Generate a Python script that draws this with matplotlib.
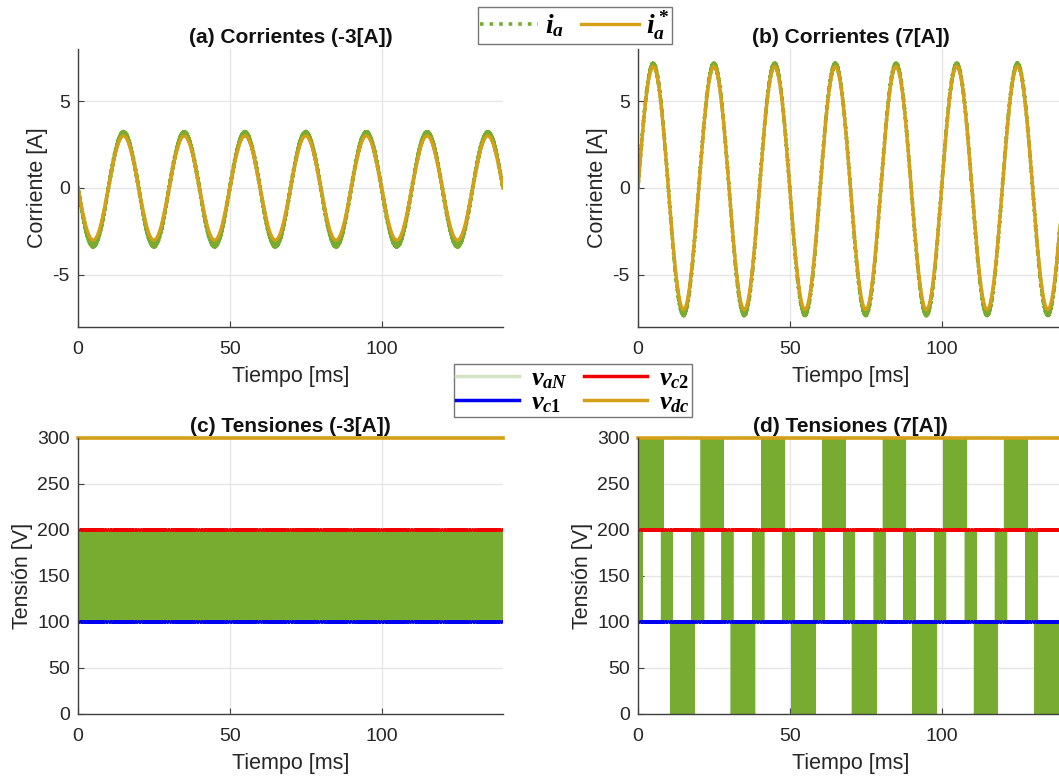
import numpy as np
import matplotlib
matplotlib.use("Agg")
import matplotlib.pyplot as plt

plt.rcParams["font.family"] = ["Liberation Sans", "DejaVu Sans"]
plt.rcParams["mathtext.fontset"] = "custom"
plt.rcParams["mathtext.it"] = "Liberation Serif:italic:bold"
plt.rcParams["mathtext.rm"] = "Liberation Serif:bold"
plt.rcParams["mathtext.bf"] = "Liberation Serif:bold"
plt.rcParams["axes.unicode_minus"] = False

# ---------------- data ----------------
t_end_ms = 140.0          # simulated window [ms]
half_cycle_ms = 10.0      # 50 Hz fundamental -> 10 ms per half cycle
t_switch_ms = 0.1         # switching period of the converter [ms]

# half-cycle peak values of the phase current [A]
ia_ref_peaks_a = [-3.0, 3.0, -3.0, 3.0, -3.0, 3.0, -3.0, 3.0, -3.0, 3.0, -3.0, 3.0, -3.0, 3.0]
ia_meas_peaks_a = [-3.3, 3.15, -3.3, 3.15, -3.3, 3.15, -3.3, 3.15, -3.3, 3.15, -3.3, 3.15, -3.3, 3.15]
ia_ref_peaks_b = [7.0, -7.0, 7.0, -7.0, 7.0, -7.0, 7.0, -7.0, 7.0, -7.0, 7.0, -7.0, 7.0, -7.0]
ia_meas_peaks_b = [7.1, -7.25, 7.1, -7.25, 7.1, -7.25, 7.1, -7.25, 7.1, -7.25, 7.1, -7.25, 7.1, -7.25]
ia_ripple = [0.10, 0.10]   # switching ripple amplitude of the measured current [A]

# dc-link and capacitor voltages [V]
v_dc = 300.0
v_c1 = 100.0
v_c2 = 200.0
vc_ripple = 1.0

# switching intervals of v_aN: (start ms, end ms) for each voltage band
vaN_c_bands = {(100, 200): [(0.0, 140.0)]}
vaN_d_bands = {
    (200, 300): [(0.3, 8.2), (20.8, 28.1), (40.8, 48.2), (60.8, 68.2),
                 (80.8, 88.1), (100.8, 108.2), (120.7, 128.2)],
    (100, 200): [(0.0, 1.4), (7.7, 11.3), (17.8, 21.6), (27.7, 31.2), (37.8, 41.4),
                 (47.7, 51.5), (57.8, 61.4), (67.7, 71.3), (77.8, 81.3), (87.6, 91.3),
                 (97.8, 101.3), (107.8, 111.4), (117.7, 121.4), (127.7, 131.4)],
    (0, 100): [(10.7, 18.4), (30.7, 38.4), (50.7, 58.3), (70.6, 78.4),
               (90.6, 98.3), (110.8, 118.3), (130.8, 138.4)],
}

titles = ["(a) Corrientes (-3[A])", "(b) Corrientes (7[A])",
          "(c) Tensiones (-3[A])", "(d) Tensiones (7[A])"]
x_ticks = [0, 50, 100]
i_ticks = [-5, 0, 5]
v_ticks = [0, 50, 100, 150, 200, 250, 300]

# ---------------- colours ----------------
c_green = "#77AC30"
c_green_light = "#D3E5C4"
c_gold = "#D4A017"
c_red = "#F00000"
c_blue = "#0000F0"
c_axis = "#404040"
c_grid = "#E6E6E6"


def current_wave(peaks, n_per_half=400):
    """Half-sine segments joined together, one per half cycle."""
    ts, ys = [], []
    for k, pk in enumerate(peaks):
        tt = np.linspace(0, half_cycle_ms, n_per_half, endpoint=False)
        ts.append(k * half_cycle_ms + tt)
        ys.append(pk * np.sin(np.pi * tt / half_cycle_ms))
    ts.append([len(peaks) * half_cycle_ms])
    ys.append([0.0])
    return np.concatenate(ts), np.concatenate(ys)


def add_ripple(t, y, amp):
    """Triangular switching ripple on top of a waveform."""
    phase = (t / t_switch_ms) % 1.0
    tri = 4 * np.abs(phase - 0.5) - 1
    return y + amp * tri


def switching_trace(bands):
    """Two-level switching inside each band, segments separated by NaN."""
    xs, ys = [], []
    half = t_switch_ms / 2
    for (lo, hi), spans in bands.items():
        for a, b in spans:
            n = int(round((b - a) / half))
            tt = a + half * np.arange(n + 1)
            vv = np.where(np.arange(n + 1) % 2 == 0, lo, hi).astype(float)
            tx = np.repeat(tt, 2)[1:]
            vy = np.repeat(vv, 2)[:-1]
            xs.append(tx)
            ys.append(vy)
            xs.append([np.nan])
            ys.append([np.nan])
    return np.concatenate(xs), np.concatenate(ys)


def cap_voltage(level, current_peaks):
    t = np.linspace(0, t_end_ms, 5601)
    _, i_env = current_wave(current_peaks, n_per_half=400)
    i_env = np.interp(t, np.linspace(0, t_end_ms, len(i_env)), np.abs(i_env))
    phase = (t / t_switch_ms * 1.37) % 1.0
    tri = 4 * np.abs(phase - 0.5) - 1
    scale = 0.6 + 0.4 * i_env / max(abs(p) for p in current_peaks)
    return t, level + vc_ripple * scale * tri


# ---------------- figure ----------------
W, H = 1059, 778
fig = plt.figure(figsize=(W / 100, H / 100), dpi=100)


def px_axes(left, top, right, bottom):
    return fig.add_axes([left / W, 1 - bottom / H, (right - left) / W, (bottom - top) / H])


ax_a = px_axes(78, 49, 503, 327)
ax_b = px_axes(638, 49, 1063, 327)
ax_c = px_axes(78, 438, 503, 714)
ax_d = px_axes(638, 438, 1063, 714)


def style(ax, title, ylabel, ylim, yticks):
    ax.set_xlim(0, t_end_ms)
    ax.set_ylim(*ylim)
    ax.set_xticks(x_ticks)
    ax.set_yticks(yticks)
    for s in ("top", "right"):
        ax.spines[s].set_visible(False)
    for s in ("left", "bottom"):
        ax.spines[s].set_color(c_axis)
        ax.spines[s].set_linewidth(1.0)
    ax.grid(True, color=c_grid, linewidth=1.0)
    ax.set_axisbelow(True)
    ax.tick_params(direction="in", length=4, width=0.8, color=c_axis,
                   labelsize=14, labelcolor="#262626")
    ax.tick_params(axis="x", pad=10)
    ax.tick_params(axis="y", pad=6)
    ax.set_title(title, fontsize=15, fontweight="bold", pad=4, color="#111111")
    ax.set_xlabel("Tiempo [ms]", fontsize=15.5, color="#262626", labelpad=6)
    ax.set_ylabel(ylabel, fontsize=15.5, color="#262626", labelpad=3)


# currents
for ax, ref_pk, meas_pk, rip, title in (
        (ax_a, ia_ref_peaks_a, ia_meas_peaks_a, ia_ripple[0], titles[0]),
        (ax_b, ia_ref_peaks_b, ia_meas_peaks_b, ia_ripple[1], titles[1])):
    t_m, i_m = current_wave(meas_pk, n_per_half=1000)
    i_m = add_ripple(t_m, i_m, rip)
    t_r, i_r = current_wave(ref_pk)
    ax.plot(t_m, i_m, linestyle=":", color=c_green, linewidth=2.6, label=r"$i_a$")
    ax.plot(t_r, i_r, linestyle="-", color=c_gold, linewidth=2.4, label=r"$i_a^*$")
    style(ax, title, "Corriente [A]", (-8, 8), i_ticks)

# voltages
for ax, bands, cur_pk, title in ((ax_c, vaN_c_bands, ia_ref_peaks_a, titles[2]),
                                 (ax_d, vaN_d_bands, ia_ref_peaks_b, titles[3])):
    tx, vy = switching_trace(bands)
    ax.plot(tx, vy, color=c_green, linewidth=1.0, label=r"$v_{aN}$")
    t1, v1 = cap_voltage(v_c1, cur_pk)
    t2, v2 = cap_voltage(v_c2, cur_pk)
    ax.plot(t1, v1, color=c_blue, linewidth=1.3, label=r"$v_{c1}$")
    ax.plot(t2, v2, color=c_red, linewidth=1.3, label=r"$v_{c2}$")
    ax.plot([0, t_end_ms], [v_dc, v_dc], color=c_gold, linewidth=2.6, label=r"$v_{dc}$",
            clip_on=False)
    style(ax, title, "Tensión [V]", (0, 300), v_ticks)

# legends
h, l = ax_a.get_legend_handles_labels()
leg1 = fig.legend(h, l, loc="upper center", bbox_to_anchor=(575 / W, 1 - 7 / H),
                  ncol=2, fontsize=20, frameon=True, fancybox=False, edgecolor="#555555",
                  handlelength=2.1, columnspacing=0.6, handletextpad=0.25,
                  borderpad=0.08, borderaxespad=0)
leg1.get_frame().set_linewidth(1.0)

h, l = ax_c.get_legend_handles_labels()
leg2 = fig.legend(h, l, loc="upper center",
                  bbox_to_anchor=(573 / W, 1 - 364 / H), ncol=2, fontsize=19,
                  frameon=True, fancybox=False, edgecolor="#555555",
                  handlelength=2.4, columnspacing=0.6, handletextpad=0.45,
                  borderpad=0.08, labelspacing=0.0, borderaxespad=0)
leg2.get_frame().set_linewidth(1.0)
for hl in leg2.legend_handles:
    hl.set_linewidth(2.5)
leg2.legend_handles[0].set_color(c_green_light)

fig.savefig("out.png", dpi=100)
